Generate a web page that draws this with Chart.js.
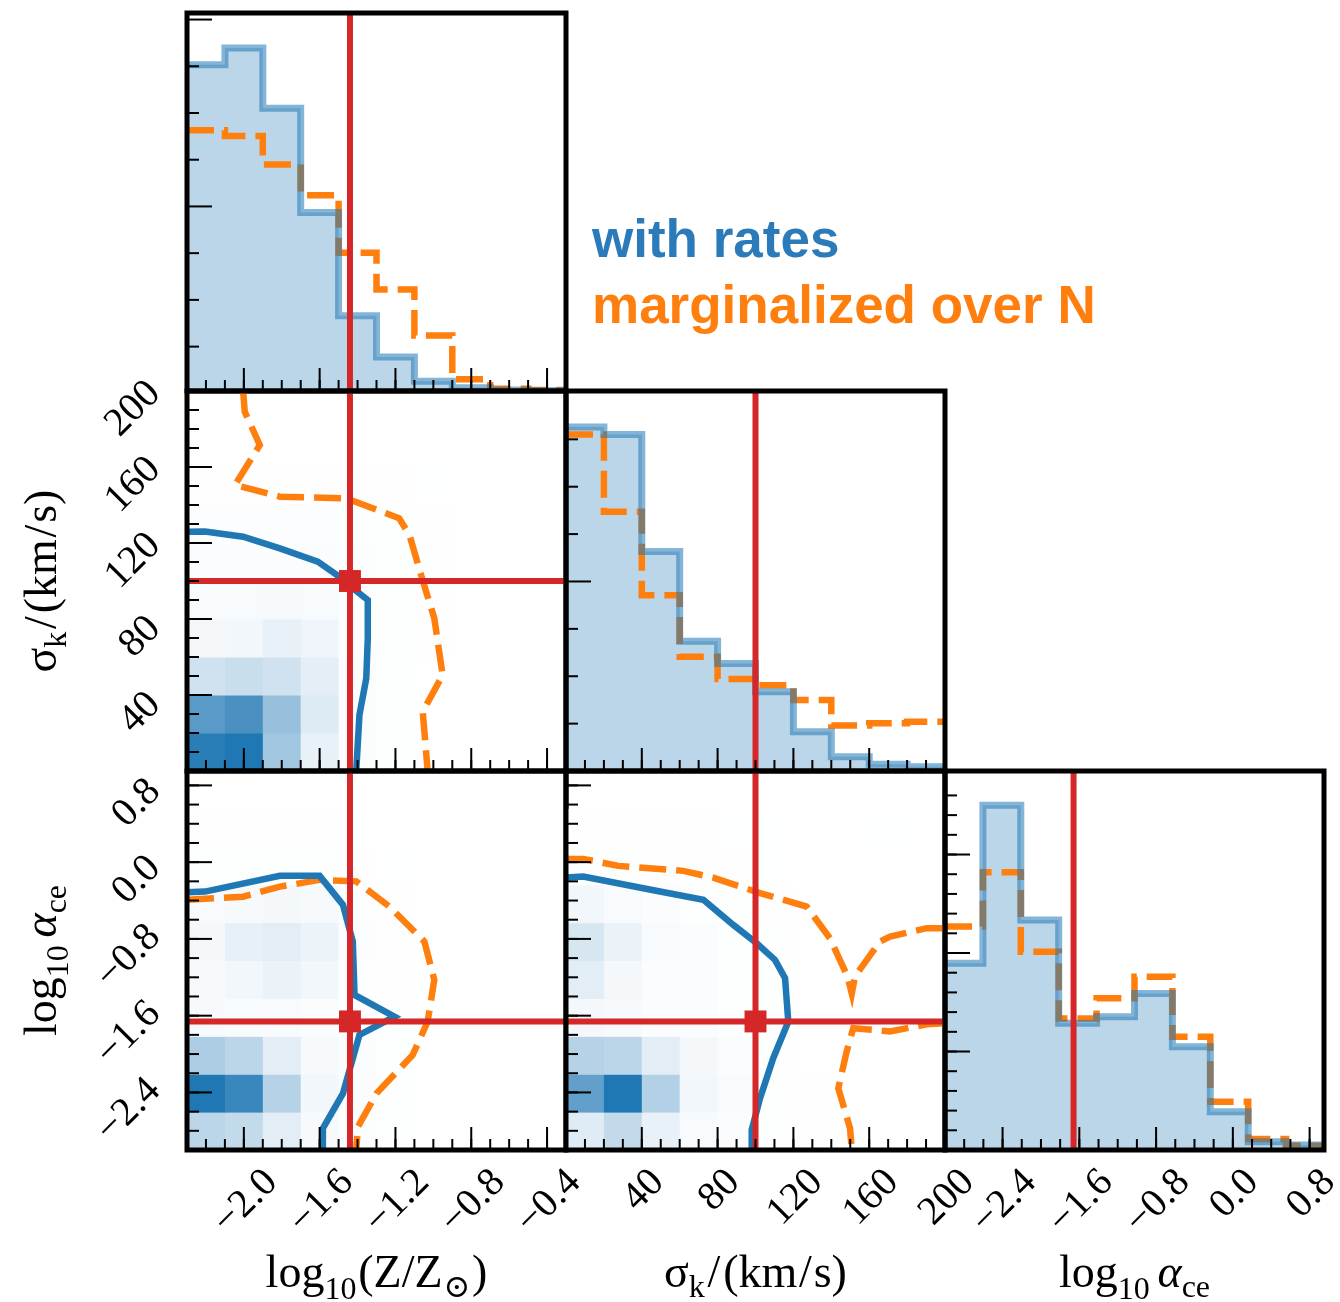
<!DOCTYPE html>
<html>
<head>
<meta charset="utf-8">
<script src="https://cdn.jsdelivr.net/npm/chart.js@4.4.1/dist/chart.umd.min.js"></script>
<style>
  body { margin: 0; background: #fff; }
  #wrap { position: relative; width: 1340px; height: 1302px; overflow: hidden; }
  #wrap canvas { position: absolute; left: 0; top: 0; }
  .leg { position: absolute; left: 592px; font: bold 53px "Liberation Sans", Arial, sans-serif; line-height: 53px; white-space: nowrap; z-index: 10; }
</style>
</head>
<body>
<div id="wrap">
  <div class="leg" style="top:212px;color:#2b7bba">with rates</div>
  <div class="leg" style="top:278px;color:#ff7f0e">marginalized over N</div>
</div>
<script>
// bin edges (x of the histograms and cells of the 2d panels)
const zEdges = [-2.3, -2.1, -1.9, -1.7, -1.5, -1.3, -1.1, -0.9, -0.7, -0.5, -0.3];
const sigmaEdges = [0, 20, 40, 60, 80, 100, 120, 140, 160, 180, 200];
const alphaEdges = [-3.0, -2.605, -2.21, -1.815, -1.42, -1.025, -0.63, -0.235, 0.16, 0.555, 0.95];

// 1d histograms: "with rates" (blue) and "marginalized over N" (orange)
const zHistRates = [6.98, 7.34, 6.05, 3.82, 1.61, 0.73, 0.21, 0.07, 0.02, 0.01];
const zHistMarg = [5.58, 5.46, 4.85, 4.19, 2.96, 2.17, 1.19, 0.25, 0.05, 0.02];
const sigmaHistRates = [7.26, 7.10, 4.63, 2.74, 2.27, 1.67, 0.83, 0.30, 0.14, 0.09];
const sigmaHistMarg = [7.10, 5.47, 3.71, 2.41, 1.94, 1.81, 1.50, 0.96, 1.01, 1.04];
const alphaHistRates = [9.48, 17.5, 11.68, 6.43, 6.77, 7.95, 5.24, 1.94, 0.42, 0.25];
const alphaHistMarg = [11.34, 14.1, 10.07, 6.68, 7.7, 8.8, 5.75, 2.45, 0.56, 0.22];

// true values
const zTrue = -1.44;
const sigmaTrue = 100;
const alphaTrue = -1.66;

// 2d density cells (rows = y bins from bottom, cols = x bins from left), 0..1
const zSigmaDensity = [
  [0.95, 1.00, 0.42, 0.10, 0.02, 0.01],
  [0.74, 0.81, 0.46, 0.15, 0.02, 0.01],
  [0.21, 0.24, 0.21, 0.125, 0.02, 0.01],
  [0.05, 0.06, 0.10, 0.07, 0.015, 0.01, 0.005],
  [0.03, 0.03, 0.04, 0.03, 0.015, 0.01, 0.005],
  [0.02, 0.02, 0.02, 0.02, 0.012, 0.01, 0.005],
  [0.015, 0.015, 0.012, 0.012, 0.01, 0.008, 0.004],
  [0.006, 0.006, 0.006, 0.006, 0.006, 0.005, 0.003]
];
const zAlphaDensity = [
  [0.30, 0.27, 0.13, 0.04, 0.015, 0.01],
  [1.00, 0.88, 0.33, 0.06, 0.02, 0.01],
  [0.37, 0.30, 0.13, 0.04, 0.02, 0.01],
  [0.04, 0.03, 0.03, 0.02, 0.01, 0.01],
  [0.04, 0.06, 0.09, 0.06, 0.01, 0.005],
  [0.05, 0.11, 0.13, 0.08, 0.015, 0.005],
  [0.03, 0.04, 0.05, 0.04, 0.01, 0.005],
  [0.01, 0.01, 0.01, 0.01, 0.005, 0.003],
  [0.005, 0.005, 0.005, 0.004, 0.003]
];
const sigmaAlphaDensity = [
  [0.14, 0.27, 0.10, 0.03, 0.02, 0.01, 0.005],
  [0.70, 1.00, 0.34, 0.06, 0.03, 0.01, 0.005],
  [0.33, 0.30, 0.13, 0.05, 0.02, 0.01],
  [0.05, 0.04, 0.02, 0.02, 0.01, 0.01],
  [0.13, 0.05, 0.02, 0.02, 0.01, 0.01],
  [0.18, 0.09, 0.03, 0.02, 0.01, 0.01],
  [0.06, 0.03, 0.02, 0.01, 0.01, 0.005],
  [0.01, 0.008, 0.005, 0.005, 0.004, 0.003],
  [0.004, 0.004, 0.004, 0.004, 0.003, 0.003, 0.002, 0.002, 0.003]
];

// contours [x, y]
const zSigmaRates = [[-2.30, 125.9], [-2.205, 126], [-2.004, 123.3], [-1.81, 117.2], [-1.61, 110.2], [-1.51, 103.2], [-1.425, 96.2], [-1.346, 90], [-1.346, 69.8], [-1.354, 48.8], [-1.39, 29.5], [-1.407, 0]];
const zSigmaMarg = [[-2.004, 200], [-1.995, 189], [-1.916, 171.6], [-2.047, 150.5], [-1.81, 144.4], [-1.46, 143.5], [-1.18, 133], [-1.126, 124.2], [-1.065, 103.2], [-0.995, 80.4], [-0.951, 50.5], [-1.056, 31.2], [-1.03, 0]];
const zAlphaRates = [[-2.30, -0.313], [-2.205, -0.307], [-1.81, -0.143], [-1.6, -0.143], [-1.477, -0.445], [-1.425, -0.828], [-1.416, -1.384], [-1.205, -1.61], [-1.39, -1.80], [-1.477, -2.41], [-1.583, -2.774], [-1.583, -3.0]];
const zAlphaMarg = [[-2.30, -0.393], [-2.004, -0.36], [-1.81, -0.255], [-1.6, -0.185], [-1.407, -0.2], [-1.232, -0.463], [-1.047, -0.828], [-0.995, -1.227], [-1.03, -1.662], [-1.109, -2.009], [-1.30, -2.41], [-1.398, -2.757], [-1.407, -3.0]];
const sigmaAlphaRates = [[0, -0.161], [9.1, -0.15], [49.6, -0.306], [72.5, -0.393], [88.3, -0.654], [100.6, -0.845], [110.3, -1.019], [115.6, -1.21], [117.3, -1.662], [109.4, -2.04], [102.4, -2.46], [98, -2.79], [98, -3.0]];
const sigmaAlphaMargUpper = [[0, 0.034], [9.1, 0.034], [27.6, -0.039], [61.9, -0.091], [77.7, -0.161], [102.4, -0.323], [127, -0.463], [139.3, -0.794], [148.5, -1.19], [150.8, -1.37], [152.5, -1.19], [165.7, -0.828], [171, -0.776], [190.3, -0.688], [200, -0.688]];
const sigmaAlphaMargLower = [[200, -1.68], [190.3, -1.69], [171, -1.765], [151.6, -1.73], [148.1, -1.974], [143.7, -2.357], [149.9, -2.774], [150.8, -3.0]];

// tick labels
const zTicks = [-2.0, -1.6, -1.2, -0.8, -0.4];
const zTickLabels = ["\u22122.0", "\u22121.6", "\u22121.2", "\u22120.8", "\u22120.4"];
const sigmaTicks = [40, 80, 120, 160, 200];
const sigmaTickLabels = ["40", "80", "120", "160", "200"];
const alphaTicks = [-2.4, -1.6, -0.8, 0.0, 0.8];
const alphaTickLabels = ["\u22122.4", "\u22121.6", "\u22120.8", "0.0", "0.8"];

const W = 1340, H = 1302;
const cols = [[187, 566], [566, 945], [945, 1324]];
const rows = [[13, 391], [391, 771], [771, 1150]];
const BLUE = "#1f77b4", ORANGE = "#ff7f0e", RED = "#d62728";
const DASH = [27, 10];

function minors(min, max, step) {
  let out = [];
  let n = Math.round((max - min) / step);
  for (let i = 1; i < n; i++) out.push(min + i * step);
  return out;
}

const zAxis = { min: -2.3, max: -0.3, major: zTicks, minor: minors(-2.3, -0.3, 0.1), labels: zTickLabels };
const sigmaAxis = { min: 0, max: 200, major: sigmaTicks, minor: minors(0, 200, 10), labels: sigmaTickLabels };
const alphaAxis = { min: -3.0, max: 0.95, major: alphaTicks, minor: minors(-3.0, 0.95, 0.2), labels: alphaTickLabels };
const zHistAxis = { min: 0, max: 8.09, major: [3.95, 7.95], minor: [0.95, 1.95, 2.95, 4.95, 5.95, 6.95] };
const sigmaHistAxis = { min: 0, max: 8.02, major: [4, 8], minor: [1, 2, 3, 5, 6, 7] };
const alphaHistAxis = { min: 0, max: 19.24, major: [5, 10, 15], minor: minors(0, 19, 1) };

const zTitle = [{ t: "log" }, { t: "10", s: 0.7, dy: 0.26 }, { t: "(Z/Z", gap: 0.04 }, { t: "\u2299", s: 0.7, dy: 0.22, gap: 0.02 }, { t: ")", gap: 0.04 }];
const sigmaTitle = [{ t: "\u03c3" }, { t: "k", s: 0.7, dy: 0.22 }, { t: "/", gap: 0.06 }, { t: "(km", gap: 0.06 }, { t: "/", gap: 0.04 }, { t: "s)", gap: 0.04 }];
const alphaTitle = [{ t: "log" }, { t: "10", s: 0.7, dy: 0.26 }, { t: "\u03b1", it: true, gap: 0.17 }, { t: "ce", s: 0.7, dy: 0.22 }];

function stepPoints(edges, vals) {
  let pts = vals.map((v, i) => ({ x: edges[i], y: v }));
  pts.push({ x: edges[edges.length - 1], y: vals[vals.length - 1] });
  return pts;
}
function pairs(arr) {
  return arr.map((p) => ({ x: p[0], y: p[1] }));
}

function drawMath(ctx, pieces, size, cx, by, vertical) {
  ctx.save();
  const font = (p) => (p.it ? "italic " : "") + Math.round(size * (p.s || 1)) + 'px "Liberation Serif", "DejaVu Serif", serif';
  let total = 0;
  pieces.forEach((p) => {
    ctx.font = font(p);
    p.w = ctx.measureText(p.t).width;
    total += p.w + (p.gap || 0) * size;
  });
  ctx.translate(cx, by);
  if (vertical) ctx.rotate(-Math.PI / 2);
  ctx.fillStyle = "#000";
  ctx.textAlign = "left";
  ctx.textBaseline = "alphabetic";
  let x = -total / 2;
  pieces.forEach((p) => {
    x += (p.gap || 0) * size;
    ctx.font = font(p);
    ctx.fillText(p.t, x, (p.dy || 0) * size);
    x += p.w;
  });
  ctx.restore();
}

function rotLabel(ctx, txt, cx, cy) {
  ctx.save();
  ctx.translate(cx, cy);
  ctx.rotate(-Math.PI / 4);
  ctx.textAlign = "center";
  ctx.textBaseline = "middle";
  ctx.fillText(txt, 0, 0);
  ctx.restore();
}

function blues(d) {
  let r = Math.round(255 + (31 - 255) * d);
  let g = Math.round(255 + (119 - 255) * d);
  let b = Math.round(255 + (180 - 255) * d);
  return "rgb(" + r + "," + g + "," + b + ")";
}

function heatPlugin(xEdges, yEdges, dens) {
  return {
    id: "heat",
    beforeDatasetsDraw(chart) {
      if (!dens) return;
      const { ctx, scales } = chart;
      ctx.save();
      dens.forEach((row, j) => {
        row.forEach((d, i) => {
          let xa = scales.x.getPixelForValue(xEdges[i]);
          let xb = scales.x.getPixelForValue(xEdges[i + 1]);
          let ya = scales.y.getPixelForValue(yEdges[j + 1]);
          let yb = scales.y.getPixelForValue(yEdges[j]);
          ctx.fillStyle = blues(d);
          ctx.fillRect(xa, ya, xb - xa + 0.5, yb - ya + 0.5);
        });
      });
      ctx.restore();
    }
  };
}

function framePlugin(cfg) {
  return {
    id: "frame",
    afterDatasetsDraw(chart) {
      const { ctx, chartArea: a, scales } = chart;
      const xs = scales.x, ys = scales.y;
      ctx.save();
      ctx.strokeStyle = "#000";
      ctx.lineWidth = 2;
      const tick = (px, py, dx, dy) => {
        ctx.beginPath();
        ctx.moveTo(px, py);
        ctx.lineTo(px + dx, py + dy);
        ctx.stroke();
      };
      cfg.x.minor.forEach((v) => tick(xs.getPixelForValue(v), a.bottom, 0, -11));
      cfg.x.major.forEach((v) => tick(xs.getPixelForValue(v), a.bottom, 0, -23));
      cfg.y.minor.forEach((v) => tick(a.left, ys.getPixelForValue(v), 12, 0));
      cfg.y.major.forEach((v) => tick(a.left, ys.getPixelForValue(v), 25, 0));
      ctx.lineWidth = 5;
      ctx.lineJoin = "miter";
      ctx.strokeRect(a.left, a.top, a.right - a.left, a.bottom - a.top);

      ctx.fillStyle = "#000";
      ctx.font = '40px "Liberation Serif", "DejaVu Serif", serif';
      const h = 27;
      if (cfg.xLabels) {
        cfg.x.major.forEach((v, i) => {
          let L = ctx.measureText(cfg.x.labels[i]).width;
          let s = (L + h) / Math.SQRT2;
          rotLabel(ctx, cfg.x.labels[i], xs.getPixelForValue(v) + 2, a.bottom + 17 + s / 2);
        });
        drawMath(ctx, cfg.xTitle, 46, (a.left + a.right) / 2, 1287, false);
      }
      if (cfg.yLabels) {
        cfg.y.major.forEach((v, i) => {
          let L = ctx.measureText(cfg.y.labels[i]).width;
          let s = (L + h) / Math.SQRT2;
          rotLabel(ctx, cfg.y.labels[i], a.left - 23 - s / 2, ys.getPixelForValue(v) + 18);
        });
        drawMath(ctx, cfg.yTitle, 46, 56, (a.top + a.bottom) / 2, true);
      }
      ctx.restore();
    }
  };
}

function panel(col, row, cfg, datasets, heat) {
  const c = document.createElement("canvas");
  c.width = W;
  c.height = H;
  document.getElementById("wrap").appendChild(c);
  const [x0, x1] = cols[col];
  const [y0, y1] = rows[row];
  return new Chart(c, {
    type: "line",
    data: { datasets: datasets },
    options: {
      responsive: false,
      animation: false,
      events: [],
      layout: { padding: { left: x0, right: W - x1, top: y0, bottom: H - y1 } },
      elements: { point: { radius: 0 }, line: { tension: 0 } },
      plugins: { legend: { display: false }, tooltip: { enabled: false } },
      scales: {
        x: { type: "linear", display: false, min: cfg.x.min, max: cfg.x.max },
        y: { type: "linear", display: false, min: cfg.y.min, max: cfg.y.max }
      }
    },
    plugins: [heat || heatPlugin(), framePlugin(cfg)]
  });
}

function histSets(edges, rates, marg, truth, yAx) {
  return [
    { data: stepPoints(edges, rates), stepped: true, fill: "origin", backgroundColor: "rgba(31,119,180,0.3)", borderColor: "rgba(0,0,0,0)", borderWidth: 0, order: 5 },
    { data: stepPoints(edges, marg), stepped: true, fill: false, borderColor: ORANGE, borderWidth: 6.5, borderDash: DASH, borderCapStyle: "butt", order: 4 },
    { data: stepPoints(edges, rates), stepped: true, fill: false, borderColor: "rgba(31,119,180,0.55)", borderWidth: 7, borderJoinStyle: "miter", order: 3 },
    { data: [{ x: truth, y: yAx.min }, { x: truth, y: yAx.max }], borderColor: RED, borderWidth: 6, order: 0 }
  ];
}

function pairSets(rates, margs, tx, ty, xAx, yAx) {
  let sets = [{ data: pairs(rates), borderColor: BLUE, borderWidth: 6.5, fill: false, order: 2 }];
  margs.forEach((m) => {
    sets.push({ data: pairs(m), borderColor: ORANGE, borderWidth: 6.5, borderDash: DASH, borderCapStyle: "butt", fill: false, order: 3 });
  });
  sets.push({ data: [{ x: tx, y: yAx.min }, { x: tx, y: yAx.max }], borderColor: RED, borderWidth: 6, order: 1 });
  sets.push({ data: [{ x: xAx.min, y: ty }, { x: xAx.max, y: ty }], borderColor: RED, borderWidth: 6, order: 1 });
  sets.push({ data: [{ x: tx, y: ty }], showLine: false, pointStyle: "rect", pointRadius: 15.5, pointBackgroundColor: RED, pointBorderWidth: 0, order: 0 });
  return sets;
}

// diagonal
panel(0, 0, { x: zAxis, y: zHistAxis }, histSets(zEdges, zHistRates, zHistMarg, zTrue, zHistAxis));
panel(1, 1, { x: sigmaAxis, y: sigmaHistAxis }, histSets(sigmaEdges, sigmaHistRates, sigmaHistMarg, sigmaTrue, sigmaHistAxis));
panel(2, 2, { x: alphaAxis, y: alphaHistAxis, xLabels: true, xTitle: alphaTitle }, histSets(alphaEdges, alphaHistRates, alphaHistMarg, alphaTrue, alphaHistAxis));

// pairs
panel(0, 1, { x: zAxis, y: sigmaAxis, yLabels: true, yTitle: sigmaTitle },
  pairSets(zSigmaRates, [zSigmaMarg], zTrue, sigmaTrue, zAxis, sigmaAxis),
  heatPlugin(zEdges, sigmaEdges, zSigmaDensity));
panel(0, 2, { x: zAxis, y: alphaAxis, xLabels: true, xTitle: zTitle, yLabels: true, yTitle: alphaTitle },
  pairSets(zAlphaRates, [zAlphaMarg], zTrue, alphaTrue, zAxis, alphaAxis),
  heatPlugin(zEdges, alphaEdges, zAlphaDensity));
panel(1, 2, { x: sigmaAxis, y: alphaAxis, xLabels: true, xTitle: sigmaTitle },
  pairSets(sigmaAlphaRates, [sigmaAlphaMargUpper, sigmaAlphaMargLower], sigmaTrue, alphaTrue, sigmaAxis, alphaAxis),
  heatPlugin(sigmaEdges, alphaEdges, sigmaAlphaDensity));
</script>
</body>
</html>
